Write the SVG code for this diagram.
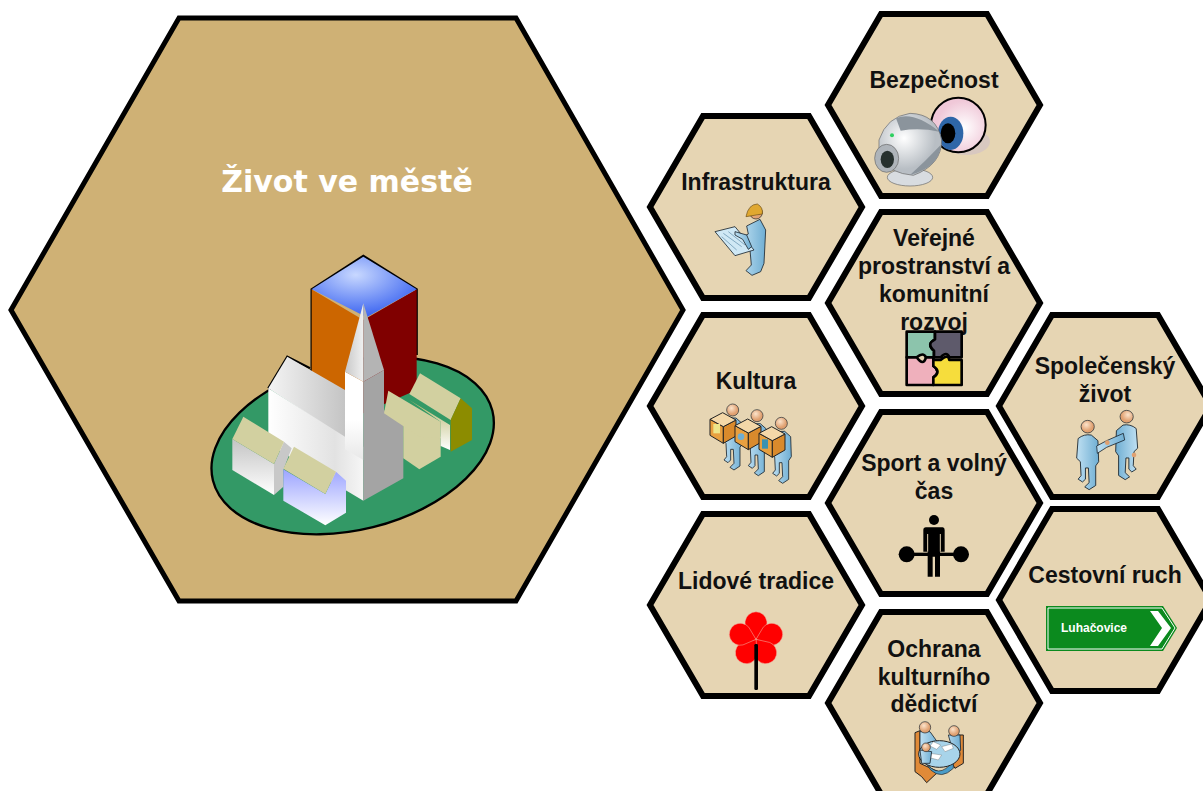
<svg xmlns="http://www.w3.org/2000/svg" width="1203" height="791" viewBox="0 0 1203 791">
<style>
.hex{fill:#E6D5B3;stroke:#000;stroke-width:6;stroke-linejoin:miter}
.t{font:bold 23px "Liberation Sans",Arial,sans-serif;fill:#111;text-anchor:middle}
.blue{fill:url(#sk);stroke:#1c2730;stroke-width:2.5;stroke-linejoin:round}
.head{fill:url(#hd);stroke:#1c2730;stroke-width:2}
.kh{fill:#D2D0A0}
</style>
<defs>
<polygon id="h" points="-53,-91 53,-91 106,0 53,91 -53,91 -106,0"/>
<linearGradient id="sk" x1="0" x2="1"><stop offset="0" stop-color="#BFE0F2"/><stop offset="1" stop-color="#6FAED3"/></linearGradient>
<radialGradient id="hd" cx=".4" cy=".35"><stop offset="0" stop-color="#FBE3CB"/><stop offset="1" stop-color="#E0A070"/></radialGradient>
<radialGradient id="top" cx=".42" cy=".3" r=".7"><stop offset="0" stop-color="#C8D8FF"/><stop offset="1" stop-color="#3A63F0"/></radialGradient>
<linearGradient id="wg" x1="0" x2="1"><stop offset="0" stop-color="#fff"/><stop offset=".7" stop-color="#E2E2E2"/><stop offset="1" stop-color="#F6F6F6"/></linearGradient>
<linearGradient id="tw" x1="0" y1="0" x2="0" y2="1"><stop offset="0" stop-color="#fff"/><stop offset=".55" stop-color="#fff"/><stop offset="1" stop-color="#E8E8E8"/></linearGradient>
<linearGradient id="rf" x1="0" x2="1"><stop offset="0" stop-color="#F4F4F4"/><stop offset="1" stop-color="#C4C4C4"/></linearGradient>
<linearGradient id="sp" x1="0" x2="1"><stop offset="0" stop-color="#C8C8C8"/><stop offset="1" stop-color="#F0F0F0"/></linearGradient>
<linearGradient id="vg" x1="0" y1="0" x2="0" y2="1"><stop offset="0" stop-color="#C4C4C4"/><stop offset="1" stop-color="#fff"/></linearGradient>
<linearGradient id="bl" x1="0" y1="0" x2="0" y2="1"><stop offset="0" stop-color="#9CA4FF"/><stop offset="1" stop-color="#fff"/></linearGradient>
<linearGradient id="yg" x1="0" y1="0" x2="0" y2="1"><stop offset="0" stop-color="#B5B56A"/><stop offset="1" stop-color="#fff"/></linearGradient>
<radialGradient id="eye" cx=".6" cy=".55"><stop offset="0" stop-color="#fff"/><stop offset="1" stop-color="#F0C8D8"/></radialGradient>
<radialGradient id="cam" cx=".4" cy=".4"><stop offset="0" stop-color="#fff"/><stop offset="1" stop-color="#B8BEC4"/></radialGradient>
<g id="man">
<path class="blue" d="M-26,34Q-10,20 10,24L28,40L30,100L22,112L22,168L4,180L-8,172L4,160L2,118L-6,118L-6,150L-14,158L-26,150L-18,140L-20,100L-30,90Z"/>
<circle class="head" cx="0" cy="0" r="18"/>
</g>
<g id="box" stroke="#222" stroke-width="3" stroke-linejoin="round">
<polygon points="0,20 40,42 40,92 0,68" fill="#E8A040"/>
<polygon points="40,42 78,22 78,70 40,92" fill="#D98A2C"/>
<polygon points="0,20 38,0 78,22 40,42" fill="#F4D8A8"/>
</g>
<path id="pet" d="M0,0L-28,-32A33,33 0 1 1 28,-32Z"/>
</defs>

<g id="connectors"></g>

<g id="main">
<polygon points="179,18 516,18 683,310 516,601 179,601 11,310" fill="#CFB175" stroke="#000" stroke-width="5"/>
<text x="347" y="192" font-family="'DejaVu Sans',sans-serif" font-weight="bold" font-size="30" fill="#fff" text-anchor="middle">Život ve městě</text>
<g id="city" transform="translate(200 240) scale(.33333)">
<ellipse cx="458" cy="617" rx="432" ry="252" transform="rotate(-14 458 617)" fill="#339966" stroke="#000" stroke-width="7"/>
<path d="M335,400V148L490,48L650,148V345" fill="none" stroke="#000" stroke-width="7"/>
<polygon points="335,148 490,240 490,520 335,420" fill="#CC6600"/>
<polygon points="650,148 490,240 490,520 650,450" fill="#800000"/>
<polygon points="335,148 490,50 650,148 500,232" fill="url(#top)"/>
<path d="M205,445L262,350L330,385" fill="none" stroke="#000" stroke-width="7"/>
<polygon points="262,350 435,450 435,595 205,445" fill="url(#rf)"/>
<polygon points="205,445 435,590 490,620 490,782 205,612" fill="url(#wg)"/>
<polygon points="435,395 490,425 490,660 435,628" fill="url(#tw)"/>
<polygon points="490,425 552,390 552,510 610,555 610,715 490,782" fill="#A4A4A4"/>
<polygon points="490,190 435,395 490,425" fill="url(#sp)"/>
<polygon points="490,190 552,390 490,425" fill="#B4B4B4"/>
<polygon points="610,555 722,590 722,650 658,688 610,655" class="kh"/>
<polygon points="565,452 722,545 722,595 658,590 552,520" class="kh"/>
<polygon points="628,480 750,555 750,630 722,618 722,545" fill="url(#yg)"/>
<polygon points="660,400 782,475 752,540 628,462" class="kh"/>
<polygon points="782,475 816,505 816,600 752,635 752,540" fill="#8C8C00"/>
<polygon points="97,597 222,672 222,765 97,690" fill="url(#vg)"/>
<polygon points="222,672 252,605 275,625 250,690 250,740 222,765" fill="#C8C8C8"/>
<polygon points="130,530 252,605 222,672 97,597" class="kh"/>
<polygon points="250,688 376,762 408,695 438,722 438,818 376,856 250,782" fill="url(#bl)"/>
<polygon points="282,620 408,695 376,762 250,686" class="kh"/>
</g>
</g>

<g id="bezpecnost">
<use href="#h" class="hex" x="934" y="105"/>
<text class="t" x="934" y="88">Bezpečnost</text>
<g transform="translate(680 90) scale(.33333)">
<ellipse cx="860" cy="155" rx="70" ry="40" fill="#D8C8C0"/>
<circle cx="835" cy="105" r="82" fill="url(#eye)" stroke="#000" stroke-width="6"/>
<ellipse cx="812" cy="130" rx="38" ry="50" fill="#2E66A8"/>
<ellipse cx="804" cy="130" rx="22" ry="30" fill="#000"/>
<ellipse cx="690" cy="262" rx="68" ry="26" fill="#D8DCE0" stroke="#666" stroke-width="2"/>
<path d="M597,150Q620,80 690,70Q770,72 785,150Q785,225 700,256Q630,250 597,205Z" fill="url(#cam)" stroke="#666" stroke-width="2"/>
<path d="M648,85Q700,62 778,125Q720,112 662,122Z" fill="#8B949C"/>
<path d="M782,165Q780,230 690,255Q735,215 782,165Z" fill="#8B949C"/>
<circle cx="636" cy="136" r="6" fill="#2ED060"/>
<ellipse cx="620" cy="205" rx="36" ry="42" fill="#AEB4BA" stroke="#666" stroke-width="2"/>
<ellipse cx="622" cy="208" rx="20" ry="26" fill="#26302E"/>
</g>
</g>

<g id="infrastruktura">
<use href="#h" class="hex" x="756" y="207"/>
<text class="t" x="756" y="190">Infrastruktura</text>
<g transform="translate(680 90) scale(.33333)">
<path class="blue" d="M200,408L240,388L257,420L252,520L242,545L216,556L198,542L214,525L210,480L180,445L205,432Z"/>
<circle class="head" cx="228" cy="368" r="19"/>
<path d="M198,380Q205,343 232,342Q250,352 247,372Z" fill="#E0A830" stroke="#6a4a10" stroke-width="2"/>
<polygon points="105,425 165,410 222,480 165,497" fill="#CFE8F5" stroke="#1c2730" stroke-width="2.5"/>
<path d="M130,430L185,470M145,425L195,465M125,440L170,480" stroke="#5a8aa8" stroke-width="2" fill="none"/>
<path class="blue" d="M165,425L200,435L215,470L205,478L188,448L165,435Z"/>
</g>
</g>

<g id="verejne">
<use href="#h" class="hex" x="934" y="303"/>
<text class="t"><tspan x="934" y="246">Veřejné</tspan><tspan x="934" y="274">prostranství a</tspan><tspan x="934" y="302">komunitní</tspan><tspan x="934" y="330">rozvoj</tspan></text>
<g transform="translate(690 320) scale(.33333)" stroke="#000" stroke-width="8" stroke-linejoin="round">
<path d="M650,35H735V58Q708,72 732,92V112H708Q700,95 680,112H650Z" fill="#8CC4AC"/>
<path d="M735,35H815V112H778Q770,92 752,112H732V92Q708,72 735,58Z" fill="#5E5A6B"/>
<path d="M650,112H680Q700,140 708,112H730V138Q755,155 730,172V195H650Z" fill="#EFB0BC"/>
<path d="M730,120H752Q775,100 778,120H815V195H730V172Q755,155 730,138Z" fill="#F6DD3C"/>
</g>
</g>

<g id="kultura">
<use href="#h" class="hex" x="756" y="406"/>
<text class="t" x="756" y="389">Kultura</text>
<g transform="translate(690 320) scale(.33333)">
<use href="#man" transform="translate(128 270)"/>
<use href="#man" transform="translate(201 287)"/>
<use href="#man" transform="translate(274 310)"/>
<use href="#box" transform="translate(60 278)"/>
<use href="#box" transform="translate(135 297)"/>
<use href="#box" transform="translate(207 320)"/>
<rect x="70" y="312" width="20" height="28" fill="#EDE58A"/>
<circle cx="153" cy="350" r="10" fill="#6FAED3"/>
<rect x="216" y="358" width="18" height="28" fill="#3C92B0"/>
</g>
</g>

<g id="spolecensky">
<use href="#h" class="hex" x="1105" y="406"/>
<text class="t"><tspan x="1105" y="374">Společenský</tspan><tspan x="1105" y="402">život</tspan></text>
<g transform="translate(890 410) scale(.33333)">
<use href="#man" transform="translate(710 20) scale(-1.1 1.05)"/>
<use href="#man" transform="translate(593 50) scale(1.1 1.05)"/>
<path class="blue" d="M620,108L650,92L700,70L704,90L650,112L622,130Z"/>
<circle cx="652" cy="98" r="7" fill="#E0A070"/>
<circle cx="732" cy="135" r="7" fill="#E0A070"/>
</g>
</g>

<g id="sport">
<use href="#h" class="hex" x="934" y="503"/>
<text class="t"><tspan x="934" y="471">Sport a volný</tspan><tspan x="934" y="499">čas</tspan></text>
<g transform="translate(890 410) scale(.33333)">
<circle cx="132" cy="330" r="15"/>
<path d="M108,352H158Q164,352 164,360V425H150V500H135V440H128V500H113V425H100V360Q100,352 108,352Z"/>
<path d="M113,372V425M151,372V425" stroke="#E6D5B3" stroke-width="3"/>
<rect x="50" y="428" width="165" height="10"/>
<circle cx="50" cy="433" r="24"/>
<circle cx="213" cy="433" r="24"/>
</g>
</g>

<g id="cestovni">
<use href="#h" class="hex" x="1105" y="600"/>
<text class="t" x="1105" y="583">Cestovní ruch</text>
<polygon points="1046,606 1163,606 1177,628 1163,651 1046,651" fill="#0B8A1E"/>
<polygon points="1048,608 1162,608 1175,628 1162,649 1048,649" fill="none" stroke="#fff" stroke-width="1"/>
<polygon points="1150,611 1158,611 1171,628 1158,646 1150,646 1162,628" fill="#fff"/>
<text x="1094" y="632" font-family="'Liberation Sans',Arial,sans-serif" font-weight="bold" font-size="12" fill="#fff" text-anchor="middle">Luhačovice</text>
</g>

<g id="lidove">
<use href="#h" class="hex" x="756" y="605"/>
<text class="t" x="756" y="589">Lidové tradice</text>
<g transform="translate(700 600) scale(.33333)">
<g fill="#FF0000" stroke="#F3B0A0" stroke-width="1.5">
<use href="#pet" transform="translate(168 118)"/>
<use href="#pet" transform="translate(168 118) rotate(72)"/>
<use href="#pet" transform="translate(168 118) rotate(144)"/>
<use href="#pet" transform="translate(168 118) rotate(216)"/>
<use href="#pet" transform="translate(168 118) rotate(288)"/>
</g>
<rect x="163" y="132" width="11" height="138" rx="4" fill="#000"/>
</g>
</g>

<g id="ochrana">
<use href="#h" class="hex" x="934" y="703"/>
<text class="t"><tspan x="934" y="657">Ochrana</tspan><tspan x="934" y="685">kulturního</tspan><tspan x="934" y="712">dědictví</tspan></text>
<g transform="translate(700 600) scale(.33333)">
<path d="M645,398L660,392V490L715,515L680,548L665,530L645,515Z" fill="#E08A38" stroke="#222" stroke-width="3"/>
<path d="M790,405V490L765,505L745,470L775,405Z" fill="#E08A38" stroke="#222" stroke-width="3"/>
<path class="blue" d="M660,395L690,395L715,430L700,450L660,450Z"/>
<path class="blue" d="M745,405L780,405L782,450L760,480L735,450L752,430Z"/>
<circle class="head" cx="675" cy="382" r="17"/>
<circle class="head" cx="762" cy="393" r="16"/>
<path d="M672,480Q715,545 760,482V505Q725,540 692,510Z" fill="#4A9CC8" stroke="#222" stroke-width="2"/>
<ellipse cx="718" cy="462" rx="62" ry="40" fill="#A8D4EA" stroke="#222" stroke-width="3"/>
<polygon points="700,425 722,435 710,448 690,438" fill="#fff" stroke="#555"/>
<polygon points="725,440 755,432 760,445 735,455" fill="#fff" stroke="#555"/>
<polygon points="690,460 725,465 715,480 685,472" fill="#fff" stroke="#555"/>
<path class="blue" d="M660,450L695,455L690,490L665,490Z"/>
<circle class="head" cx="678" cy="442" r="13"/>
</g>
</g>
</svg>
